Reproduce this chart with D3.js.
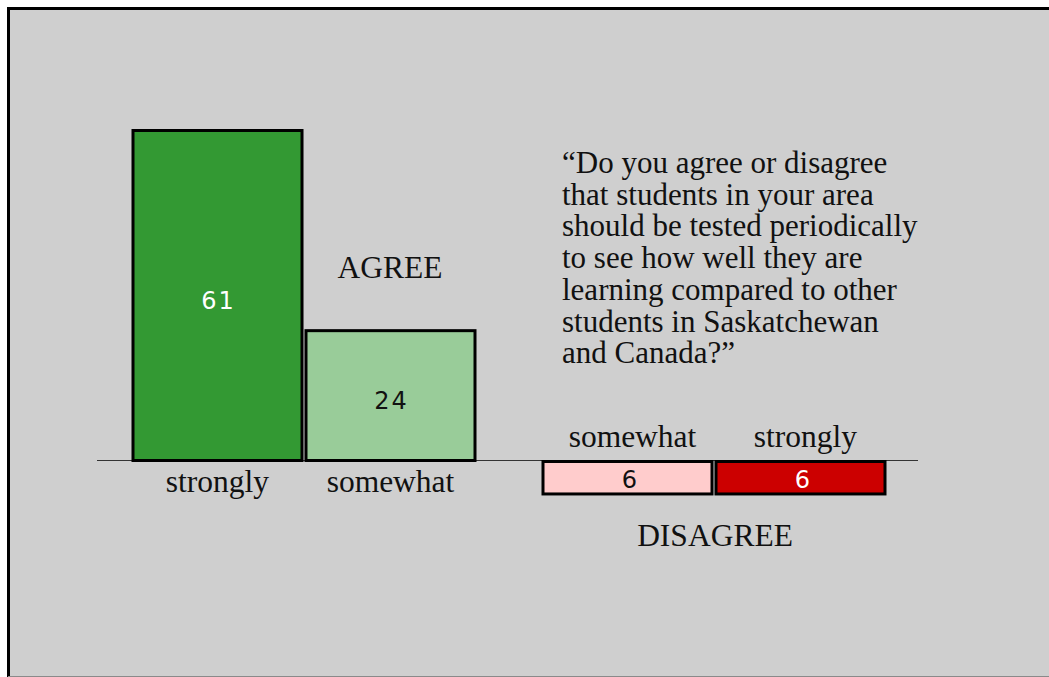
<!DOCTYPE html>
<html>
<head>
<meta charset="utf-8">
<script src="https://cdn.jsdelivr.net/npm/d3@7"></script>
<style>
  html, body { margin: 0; padding: 0; background: #ffffff; }
  svg { display: block; }
</style>
</head>
<body>
<svg id="chart" width="1049" height="677"></svg>
<script>
// Survey responses (percent)
const agreeCategories = ["strongly", "somewhat"];
const agreeValues = [61, 24];
const disagreeCategories = ["somewhat", "strongly"];
const disagreeValues = [6, 6];
const questionLines = [
  "\u201cDo you agree or disagree",
  "that students in your area",
  "should be tested periodically",
  "to see how well they are",
  "learning compared to other",
  "students in Saskatchewan",
  "and Canada?\u201d"
];

const agreeColors = ["#339933", "#99cc99"];
const agreeLabelColors = ["#ffffff", "#111111"];
const disagreeColors = ["#ffcccc", "#cc0000"];
const disagreeLabelColors = ["#111111", "#ffffff"];

const svg = d3.select("#chart");
const serif = "'Liberation Serif', 'Times New Roman', serif";
const sans = "'DejaVu Sans', Verdana, sans-serif";

// Panel background and frame
svg.append("rect").attr("x", 8).attr("y", 8).attr("width", 1049).attr("height", 668)
  .attr("fill", "#cfcfcf");
svg.append("line").attr("x1", 7).attr("x2", 1049).attr("y1", 8.5).attr("y2", 8.5)
  .attr("stroke", "#000").attr("stroke-width", 3);
svg.append("line").attr("x1", 8.5).attr("x2", 8.5).attr("y1", 7).attr("y2", 677)
  .attr("stroke", "#000").attr("stroke-width", 3);
svg.append("line").attr("x1", 8).attr("x2", 1049).attr("y1", 676.5).attr("y2", 676.5)
  .attr("stroke", "#8a8a8a").attr("stroke-width", 1);

const baseline = 460.5;
const h = d3.scaleLinear().domain([0, 61]).range([0, 330]);
const agreeX = d3.scaleBand().domain(agreeCategories).range([133, 475]).paddingInner(0.023);
const disX = d3.scaleBand().domain(disagreeCategories).range([543, 885]).paddingInner(0.023);

// Zero line
svg.append("line").attr("x1", 97).attr("x2", 918).attr("y1", baseline).attr("y2", baseline)
  .attr("stroke", "#333").attr("stroke-width", 1);

// Agree bars grow upward
const ag = svg.append("g");
ag.selectAll("rect").data(agreeValues).join("rect")
  .attr("x", (d, i) => agreeX(agreeCategories[i]))
  .attr("y", d => baseline - h(d))
  .attr("width", agreeX.bandwidth())
  .attr("height", d => h(d))
  .attr("fill", (d, i) => agreeColors[i])
  .attr("stroke", "#000").attr("stroke-width", 3);
ag.selectAll("text.val").data(agreeValues).join("text").attr("class", "val")
  .attr("x", (d, i) => agreeX(agreeCategories[i]) + agreeX.bandwidth() / 2 + 1)
  .attr("y", d => baseline - h(d) / 2 + 13)
  .attr("text-anchor", "middle")
  .attr("font-family", sans).attr("font-size", 24).attr("letter-spacing", 2)
  .attr("fill", (d, i) => agreeLabelColors[i])
  .text(d => d);
ag.selectAll("text.cat").data(agreeCategories).join("text").attr("class", "cat")
  .attr("x", d => agreeX(d) + agreeX.bandwidth() / 2)
  .attr("y", 492)
  .attr("text-anchor", "middle")
  .attr("font-family", serif).attr("font-size", 31.5).attr("fill", "#111")
  .text(d => d);

// Disagree bars hang downward
const dg = svg.append("g");
dg.selectAll("rect").data(disagreeValues).join("rect")
  .attr("x", (d, i) => disX(disagreeCategories[i]))
  .attr("y", baseline + 1)
  .attr("width", disX.bandwidth())
  .attr("height", d => h(d))
  .attr("fill", (d, i) => disagreeColors[i])
  .attr("stroke", "#000").attr("stroke-width", 3);
dg.selectAll("text.val").data(disagreeValues).join("text").attr("class", "val")
  .attr("x", (d, i) => disX(disagreeCategories[i]) + disX.bandwidth() / 2 + 3)
  .attr("y", d => baseline + 1 + h(d) / 2 + 10)
  .attr("text-anchor", "middle")
  .attr("font-family", sans).attr("font-size", 24).attr("letter-spacing", 2)
  .attr("fill", (d, i) => disagreeLabelColors[i])
  .text(d => d);
dg.selectAll("text.cat").data(disagreeCategories).join("text").attr("class", "cat")
  .attr("x", d => disX(d) + disX.bandwidth() / 2 + 5)
  .attr("y", 447)
  .attr("text-anchor", "middle")
  .attr("font-family", serif).attr("font-size", 31.5).attr("fill", "#111")
  .text(d => d);

// Group headings
svg.append("text").attr("x", 390).attr("y", 278).attr("text-anchor", "middle")
  .attr("font-family", serif).attr("font-size", 31.5).attr("fill", "#111").text("AGREE");
svg.append("text").attr("x", 715).attr("y", 546).attr("text-anchor", "middle")
  .attr("font-family", serif).attr("font-size", 31.5).attr("fill", "#111").text("DISAGREE");

// Survey question
svg.append("g").selectAll("text").data(questionLines).join("text")
  .attr("x", 562)
  .attr("y", (d, i) => 173 + i * 31.7)
  .attr("font-family", serif).attr("font-size", 31).attr("fill", "#111")
  .text(d => d);
</script>
</body>
</html>
